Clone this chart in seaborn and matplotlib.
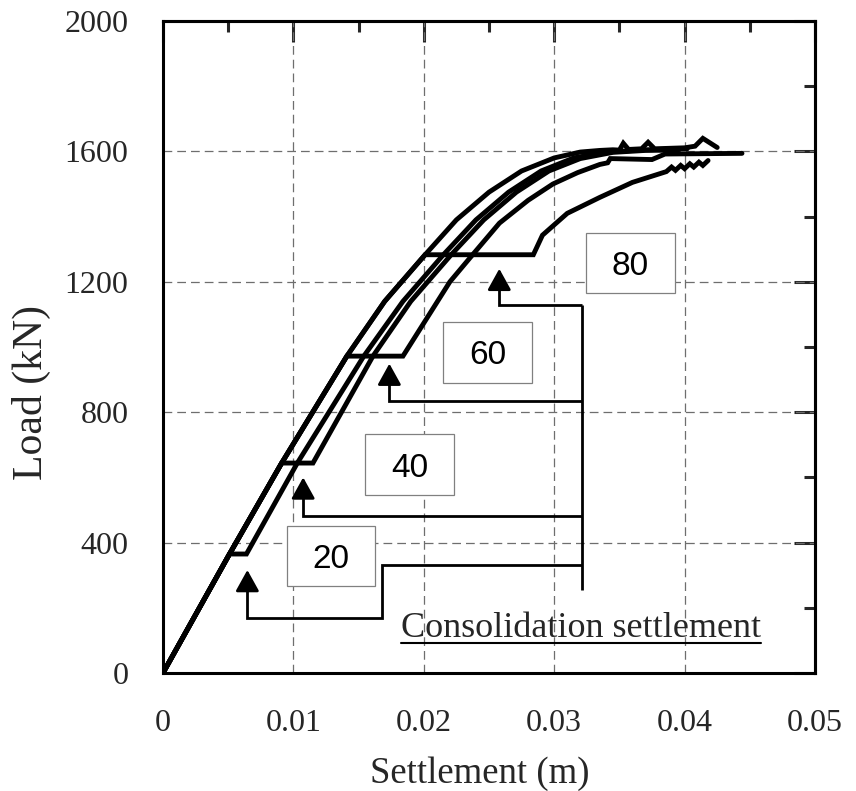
import numpy as np
import pandas as pd
import matplotlib
matplotlib.use("Agg")
import matplotlib.pyplot as plt
import seaborn as sns
from matplotlib.ticker import MultipleLocator
from matplotlib.patches import Rectangle

# ---------------- data (settlement in m, load in kN) ----------------
base_s = [0, 0.0051, 0.0091, 0.0141, 0.0170, 0.0201, 0.0225, 0.0250, 0.0275, 0.0300, 0.0320, 0.0335,
          0.0345, 0.0350, 0.0353, 0.0357, 0.0367, 0.0372, 0.0377, 0.0400, 0.0408, 0.0414, 0.0425]
base_load = [0, 365, 644, 972, 1140, 1283, 1390, 1475, 1540, 1580, 1598, 1603,
             1605, 1604, 1625, 1606, 1608, 1628, 1608, 1611, 1616, 1640, 1612]

c20_s = [0, 0.0051, 0.0064, 0.0103, 0.0154, 0.0184, 0.0215, 0.0240, 0.0265, 0.0290, 0.0315, 0.0340,
         0.0370, 0.0402]
c20_load = [0, 365, 365, 644, 972, 1140, 1283, 1390, 1475, 1540, 1580, 1598, 1605, 1608]

c40_s = [0, 0.0051, 0.0091, 0.0115, 0.0161, 0.0190, 0.0221, 0.0246, 0.0271, 0.0296, 0.0320, 0.0345,
         0.0370, 0.0395]
c40_load = [0, 365, 644, 644, 972, 1140, 1283, 1390, 1475, 1540, 1578, 1597, 1603, 1604]

c60_s = [0, 0.0051, 0.0091, 0.0141, 0.0184, 0.0220, 0.0237, 0.0258, 0.0280, 0.0299, 0.0318, 0.0335,
         0.0341, 0.0343, 0.0375, 0.0385, 0.0444]
c60_load = [0, 365, 644, 972, 972, 1200, 1281, 1380, 1450, 1500, 1535, 1560,
            1565, 1578, 1575, 1592, 1594]

c80_s = [0, 0.0051, 0.0091, 0.0141, 0.0170, 0.0201, 0.0284, 0.0291, 0.0310, 0.0335, 0.0360, 0.0386,
         0.0390, 0.0393, 0.0397, 0.0400, 0.0404, 0.0407, 0.0411, 0.0414, 0.0418]
c80_load = [0, 365, 644, 972, 1140, 1283, 1283, 1343, 1410, 1459, 1505, 1538,
            1552, 1542, 1557, 1547, 1562, 1552, 1567, 1557, 1572]

x_ticks = [0, 0.01, 0.02, 0.03, 0.04, 0.05]
x_tick_labels = ["0", "0.01", "0.02", "0.03", "0.04", "0.05"]
y_ticks = [0, 400, 800, 1200, 1600, 2000]
y_tick_labels = ["0", "400", "800", "1200", "1600", "2000"]

# consolidation-time labels (days) and their boxes [s0, s1, L0, L1]
box_labels = ["20", "40", "60", "80"]
box_s0 = [0.00951, 0.01549, 0.02147, 0.03244]
box_s1 = [0.01626, 0.02234, 0.02830, 0.03926]
box_l0 = [267, 546, 890, 1165]
box_l1 = [451, 733, 1077, 1349]

# connector bracket ("Consolidation settlement")
bracket_x = 0.0321
arrow_x = [0.00647, 0.01075, 0.01736, 0.02579]
arrow_tip = [316, 600, 949, 1240]
arrow_level = [170, 482, 835, 1128]
riser20_x = 0.0168
riser20_top = 330
bracket_bottom = 254

# ---------------- style ----------------
sns.set_style("white")
plt.rcParams["font.family"] = ["Liberation Serif", "DejaVu Serif"]
plt.rcParams["mathtext.fontset"] = "stix"

fig = plt.figure(figsize=(8.56, 7.91), dpi=100)
ax = fig.add_axes([163 / 856, 1 - 673 / 791, 652 / 856, 652 / 791])

frames = []
for name, s, l in [("0", base_s, base_load), ("20", c20_s, c20_load), ("40", c40_s, c40_load),
                   ("60", c60_s, c60_load), ("80", c80_s, c80_load)]:
    frames.append(pd.DataFrame({"settlement": s, "load": l, "curve": name}))
df = pd.concat(frames, ignore_index=True)

sns.lineplot(data=df, x="settlement", y="load", units="curve", estimator=None, sort=False,
             color="black", linewidth=3.5, ax=ax, zorder=5, solid_joinstyle="miter")

ax.set_xlim(0, 0.05)
ax.set_ylim(0, 2000)
ax.set_xticks(x_ticks, x_tick_labels)
ax.set_yticks(y_ticks, y_tick_labels)
ax.xaxis.set_minor_locator(MultipleLocator(0.005))
ax.yaxis.set_minor_locator(MultipleLocator(200))

grid_kw = dict(color="#6e6e6e", linewidth=0.9, linestyle=(0, (7, 4)))
ax.grid(True, which="major", **grid_kw)
ax.set_axisbelow(True)

for sp in ax.spines.values():
    sp.set_linewidth(2.2)
    sp.set_color("black")

ax.tick_params(axis="both", which="major", direction="out", length=15, width=2.2,
               labelsize=23, color="black", pad=10)
ax.tick_params(axis="both", which="minor", direction="out", length=8, width=2.2, color="black")
ax.tick_params(axis="x", which="major", pad=11)

# inward ticks on right/top
sec_y = ax.secondary_yaxis("right")
sec_y.set_yticks(y_ticks)
sec_y.yaxis.set_minor_locator(MultipleLocator(200))
sec_y.tick_params(which="major", direction="in", length=15, width=2.2, labelright=False)
sec_y.tick_params(which="minor", direction="in", length=8, width=2.2)
sec_y.spines["right"].set_linewidth(2.2)
sec_x = ax.secondary_xaxis("top")
sec_x.set_xticks(x_ticks)
sec_x.xaxis.set_minor_locator(MultipleLocator(0.005))
sec_x.tick_params(which="major", direction="in", length=15, width=2.2, labeltop=False)
sec_x.tick_params(which="minor", direction="in", length=8, width=2.2)
sec_x.spines["top"].set_linewidth(2.2)

ax.set_xlabel("Settlement (m)", fontsize=26.5)
ax.set_ylabel("Load (kN)", fontsize=30)
ax.xaxis.set_label_coords(0.486, -0.128)
ax.yaxis.set_label_coords(-0.172, 0.43)

# boxes with consolidation days
for lab, s0, s1, l0, l1 in zip(box_labels, box_s0, box_s1, box_l0, box_l1):
    ax.add_patch(Rectangle((s0, l0), s1 - s0, l1 - l0, facecolor="white", edgecolor="#808080",
                           linewidth=0.9, zorder=6))
    ax.text((s0 + s1) / 2, (l0 + l1) / 2, lab, ha="center", va="center_baseline", fontsize=24,
            family=["Liberation Sans", "DejaVu Sans"], zorder=7, color="black")

# bracket lines and arrows
con_kw = dict(color="black", linewidth=2.0, zorder=4, solid_capstyle="butt", solid_joinstyle="miter")
head = 55
ax.plot([bracket_x, bracket_x], [bracket_bottom, arrow_level[3]], **con_kw)
# 20-day path
ax.plot([arrow_x[0], arrow_x[0], riser20_x, riser20_x, bracket_x],
        [arrow_tip[0] - head, arrow_level[0], arrow_level[0], riser20_top, riser20_top], **con_kw)
for i in (1, 2, 3):
    ax.plot([arrow_x[i], arrow_x[i], bracket_x],
            [arrow_tip[i] - head, arrow_level[i], arrow_level[i]], **con_kw)
for i in range(4):
    ax.annotate("", xy=(arrow_x[i], arrow_tip[i]), xytext=(arrow_x[i], arrow_tip[i] - head),
                arrowprops=dict(arrowstyle="-|>,head_length=0.65,head_width=0.36",
                                color="black", lw=2.0, shrinkA=0, shrinkB=0,
                                mutation_scale=20), zorder=4)

txt = ax.text(0.01825, 110, "Consolidation settlement", fontsize=26, ha="left", va="baseline",
              zorder=6)
fig.canvas.draw()
bb = txt.get_window_extent(fig.canvas.get_renderer())
inv = ax.transData.inverted()
x0d = inv.transform((bb.x0, bb.y0))[0]
x1d = inv.transform((bb.x1, bb.y0))[0]
ax.plot([x0d, x1d], [92, 92], color="black", linewidth=1.5, zorder=6)

fig.savefig("out.png", dpi=100)
